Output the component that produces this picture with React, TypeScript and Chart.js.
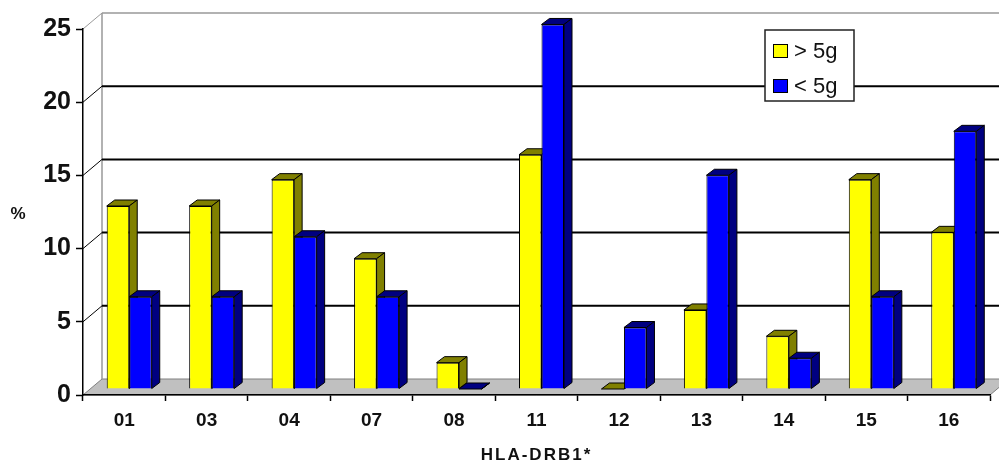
import { useEffect, useRef } from "react"
import { Chart, registerables } from "chart.js"

Chart.register(...registerables)

const categories = ["01", "03", "04", "07", "08", "11", "12", "13", "14", "15", "16"]
const above5g = [12.5, 12.5, 14.3, 8.9, 1.8, 16.0, 0, 5.4, 3.6, 14.3, 10.7]
const below5g = [6.3, 6.3, 10.4, 6.3, 0, 24.9, 4.2, 14.6, 2.1, 6.3, 17.6]
const seriesLabels = ["> 5g", "< 5g"]
const yTicks = [0, 5, 10, 15, 20, 25]

const FONT = '"Liberation Sans", Arial, sans-serif'

// fake 3d offsets (px)
const WALL = { dx: 19, dy: -16 }
const BAR = { dx: 5, dy: -6 }
const DEPTH = { dx: 8, dy: -6 }
const frontColors = ["#ffff00", "#0000ff"]
const sideColors = ["#808000", "#000080"]

function poly(ctx: CanvasRenderingContext2D, pts: number[][], fill?: string) {
  ctx.beginPath()
  ctx.moveTo(pts[0][0], pts[0][1])
  for (let i = 1; i < pts.length; i++) ctx.lineTo(pts[i][0], pts[i][1])
  ctx.closePath()
  if (fill) {
    ctx.fillStyle = fill
    ctx.fill()
  }
  ctx.stroke()
}

function seg(ctx: CanvasRenderingContext2D, x1: number, y1: number, x2: number, y2: number) {
  ctx.beginPath()
  ctx.moveTo(x1, y1)
  ctx.lineTo(x2, y2)
  ctx.stroke()
}

// top + right side faces of every bar in one dataset
function drawFaces(chart: any, index: number) {
  const ctx = chart.ctx
  const side = sideColors[index]
  ctx.strokeStyle = "#000000"
  ctx.lineWidth = 1
  chart.getDatasetMeta(index).data.forEach((el: any) => {
    const { x, y, base, width } = el.getProps(["x", "y", "base", "width"], true)
    const l = x - width / 2
    const r = x + width / 2
    const t = Math.min(y, base)
    const b = Math.max(y, base)
    poly(ctx, [[l, t], [l + DEPTH.dx, t + DEPTH.dy], [r + DEPTH.dx, t + DEPTH.dy], [r, t]], side)
    poly(ctx, [[r, t], [r + DEPTH.dx, t + DEPTH.dy], [r + DEPTH.dx, b + DEPTH.dy], [r, b]], side)
  })
}

const pseudo3d = {
  id: "pseudo3d",
  beforeDraw(chart: any) {
    const { ctx, chartArea: a } = chart
    const y = chart.scales.y
    ctx.save()
    // floor
    ctx.strokeStyle = "#808080"
    ctx.lineWidth = 1
    poly(
      ctx,
      [
        [a.left, a.bottom],
        [a.left + WALL.dx, a.bottom + WALL.dy],
        [a.right + WALL.dx, a.bottom + WALL.dy],
        [a.right, a.bottom],
      ],
      "#c0c0c0"
    )
    // left wall edge
    const top = y.getPixelForValue(yTicks[yTicks.length - 1])
    ctx.strokeStyle = "#999999"
    ctx.lineWidth = 1.5
    seg(ctx, a.left + WALL.dx, top + WALL.dy, a.left + WALL.dx, a.bottom + WALL.dy)
    // back wall grid
    yTicks.forEach((v, i) => {
      if (v === 0) return
      const py = y.getPixelForValue(v)
      const last = i === yTicks.length - 1
      ctx.strokeStyle = last ? "#999999" : "#000000"
      ctx.lineWidth = 1
      seg(ctx, a.left, py, a.left + WALL.dx, py + WALL.dy)
      ctx.lineWidth = last ? 1.5 : 2
      seg(ctx, a.left + WALL.dx, py + WALL.dy, a.right + WALL.dx + 20, py + WALL.dy)
    })
    ctx.restore()
  },
  // chart.js paints the last dataset first; yellow faces must sit under blue fronts
  beforeDatasetDraw(chart: any, args: any) {
    chart.ctx.save()
    chart.ctx.translate(BAR.dx, BAR.dy)
    if (args.index === 1) drawFaces(chart, 0)
  },
  afterDatasetDraw(chart: any, args: any) {
    if (args.index === 1) drawFaces(chart, 1)
    chart.ctx.restore()
  },
  afterDraw(chart: any) {
    const { ctx, chartArea: a } = chart
    ctx.save()

    // y title
    ctx.fillStyle = "#111111"
    ctx.font = `bold 17px ${FONT}`
    ctx.textAlign = "center"
    ctx.textBaseline = "middle"
    ctx.fillText("%", 18, 214)

    // x title
    ctx.font = `bold 17px ${FONT}`
    ;(ctx as any).letterSpacing = "2px"
    ctx.fillText("HLA-DRB1*", (a.left + a.right) / 2, 455)
    ;(ctx as any).letterSpacing = "0px"

    // legend
    const bx = 765
    const by = 30
    ctx.fillStyle = "#ffffff"
    ctx.fillRect(bx, by, 89, 71)
    ctx.strokeStyle = "#222222"
    ctx.lineWidth = 1.5
    ctx.strokeRect(bx, by, 89, 71)
    ctx.font = `22px ${FONT}`
    ctx.textAlign = "left"
    chart.data.datasets.forEach((ds: any, i: number) => {
      const cy = 51 + i * 35
      ctx.fillStyle = ds.backgroundColor
      ctx.lineWidth = 1
      ctx.fillRect(773, cy - 7, 15, 14)
      ctx.strokeStyle = "#000000"
      ctx.strokeRect(773.5, cy - 6.5, 14, 13)
      ctx.fillStyle = "#111111"
      ctx.fillText(ds.label, 794, cy + 1)
    })
    ctx.restore()
  },
}

export default function App() {
  const chartRef = useRef<HTMLCanvasElement>(null)
  const chartInstance = useRef<Chart | null>(null)

  useEffect(() => {
    document.body.style.margin = "0"
    if (!chartRef.current) return

    if (chartInstance.current) {
      chartInstance.current.destroy()
    }

    const ctx = chartRef.current.getContext("2d")
    if (!ctx) return

    Chart.defaults.font.family = FONT

    chartInstance.current = new Chart(ctx, {
      type: "bar",
      data: {
        labels: categories,
        datasets: [above5g, below5g].map((values, i) => ({
          label: seriesLabels[i],
          data: values,
          backgroundColor: frontColors[i],
          borderColor: "#000000",
          borderWidth: 1,
          categoryPercentage: 0.546,
          barPercentage: 1,
          clip: false as any,
        })),
      },
      options: {
        responsive: true,
        maintainAspectRatio: false,
        animation: false,
        layout: {
          padding: { top: 29, right: 9, left: 0, bottom: 0 },
        },
        plugins: {
          legend: { display: false },
          tooltip: { enabled: false },
        },
        scales: {
          x: {
            afterFit: (scale: any) => {
              scale.height = 72
            },
            grid: {
              drawOnChartArea: false,
              tickLength: 6,
              tickColor: "#000000",
              tickWidth: 1.5,
              offset: true,
            },
            border: { color: "#000000", width: 1.5 },
            ticks: {
              color: "#111111",
              padding: 8,
              font: { size: 19, weight: "bold" },
            },
          },
          y: {
            min: 0,
            max: 25,
            afterFit: (scale: any) => {
              scale.width = 83
            },
            grid: {
              drawOnChartArea: false,
              tickLength: 7,
              tickColor: "#000000",
              tickWidth: 1.5,
            },
            border: { color: "#000000", width: 1.5 },
            ticks: {
              stepSize: 5,
              color: "#111111",
              padding: 5,
              font: { size: 25, weight: "bold" },
            },
          },
        },
      },
      plugins: [pseudo3d],
    })

    return () => {
      if (chartInstance.current) {
        chartInstance.current.destroy()
        chartInstance.current = null
      }
    }
  }, [])

  return (
    <div style={{ position: "relative", width: 999, height: 467 }}>
      <canvas ref={chartRef} />
    </div>
  )
}
